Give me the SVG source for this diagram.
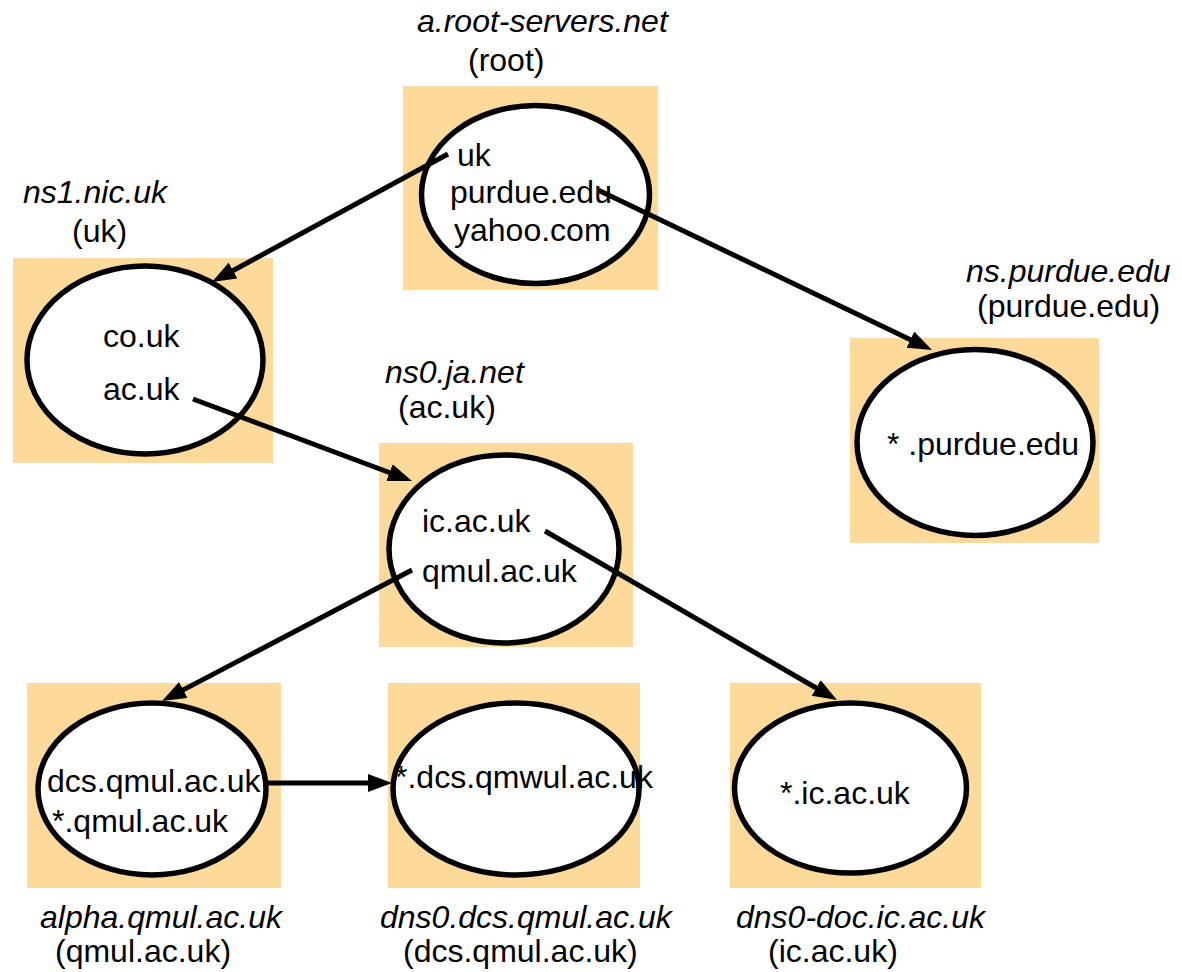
<svg xmlns="http://www.w3.org/2000/svg" width="1182" height="972" viewBox="0 0 1182 972">
<style>
.box{fill:#FEDA9A;stroke:none}
.ell{fill:#fff;stroke:#000;stroke-width:5.5}
.t{font-family:"Liberation Sans",Arial,sans-serif;font-size:32px;fill:#000}
.i{font-style:italic}
.c{stroke:#000;stroke-width:5;fill:none;marker-end:url(#ah)}
</style>
<defs>
<marker id="ah" markerUnits="userSpaceOnUse" markerWidth="26" markerHeight="20" refX="14" refY="9" orient="auto" viewBox="0 0 26 20">
<path d="M0,0 L24,9 L0,18 Z" fill="#000"/>
</marker>
</defs>
<rect width="1182" height="972" fill="#fff"/>
<g id="root">
<rect class="box" x="403" y="86" width="255" height="204"/>
<ellipse class="ell" cx="535.5" cy="194.5" rx="114" ry="89"/>
<text class="t i" x="417" y="32">a.root-servers.net</text>
<text class="t" x="468" y="71">(root)</text>
<text class="t" x="457" y="166">uk</text>
<text class="t" x="450" y="203">purdue.edu</text>
<text class="t" x="454" y="241">yahoo.com</text>
</g>
<g id="ns1">
<rect class="box" x="13" y="258" width="260" height="205"/>
<ellipse class="ell" cx="145" cy="360" rx="118" ry="94"/>
<text class="t i" x="23" y="203">ns1.nic.uk</text>
<text class="t" x="72" y="242">(uk)</text>
<text class="t" x="103" y="347">co.uk</text>
<text class="t" x="103" y="400">ac.uk</text>
</g>
<g id="purdue">
<rect class="box" x="850" y="338" width="249" height="205"/>
<ellipse class="ell" cx="975" cy="442.5" rx="118" ry="93"/>
<text class="t i" x="966" y="282">ns.purdue.edu</text>
<text class="t" x="977" y="317">(purdue.edu)</text>
<text class="t" x="887" y="455">* .purdue.edu</text>
</g>
<g id="ns0">
<rect class="box" x="379" y="443" width="254" height="204"/>
<ellipse class="ell" cx="504" cy="549" rx="115" ry="94"/>
<text class="t i" x="385" y="383">ns0.ja.net</text>
<text class="t" x="398" y="418">(ac.uk)</text>
<text class="t" x="422" y="532">ic.ac.uk</text>
<text class="t" x="422" y="582">qmul.ac.uk</text>
</g>
<g id="alpha">
<rect class="box" x="27" y="683" width="254" height="205"/>
<ellipse class="ell" cx="152" cy="789" rx="114" ry="86"/>
<text class="t" x="47" y="792">dcs.qmul.ac.uk</text>
<text class="t" x="52" y="832">*.qmul.ac.uk</text>
<text class="t i" x="40" y="928">alpha.qmul.ac.uk</text>
<text class="t" x="55" y="962">(qmul.ac.uk)</text>
</g>
<g id="dns0dcs">
<rect class="box" x="388" y="683" width="252" height="205"/>
<ellipse class="ell" cx="516" cy="789" rx="123" ry="86"/>
<text class="t" x="395" y="788">*.dcs.qmwul.ac.uk</text>
<text class="t i" x="380" y="928">dns0.dcs.qmul.ac.uk</text>
<text class="t" x="403" y="962">(dcs.qmul.ac.uk)</text>
</g>
<g id="dns0doc">
<rect class="box" x="730" y="683" width="251" height="205"/>
<ellipse class="ell" cx="850.5" cy="788" rx="116" ry="85"/>
<text class="t" x="780" y="804">*.ic.ac.uk</text>
<text class="t i" x="736" y="928">dns0-doc.ic.ac.uk</text>
<text class="t" x="768" y="962">(ic.ac.uk)</text>
</g>
<g id="connectors">
<line class="c" x1="448" y1="154" x2="220.8" y2="277.2"/>
<line class="c" x1="598" y1="190" x2="923" y2="345.7"/>
<line class="c" x1="193" y1="399" x2="402.6" y2="477.5"/>
<line class="c" x1="545" y1="531" x2="828.3" y2="695"/>
<line class="c" x1="412" y1="570" x2="170.9" y2="696.4"/>
<line class="c" x1="265" y1="783" x2="382" y2="783"/>
</g>
</svg>
